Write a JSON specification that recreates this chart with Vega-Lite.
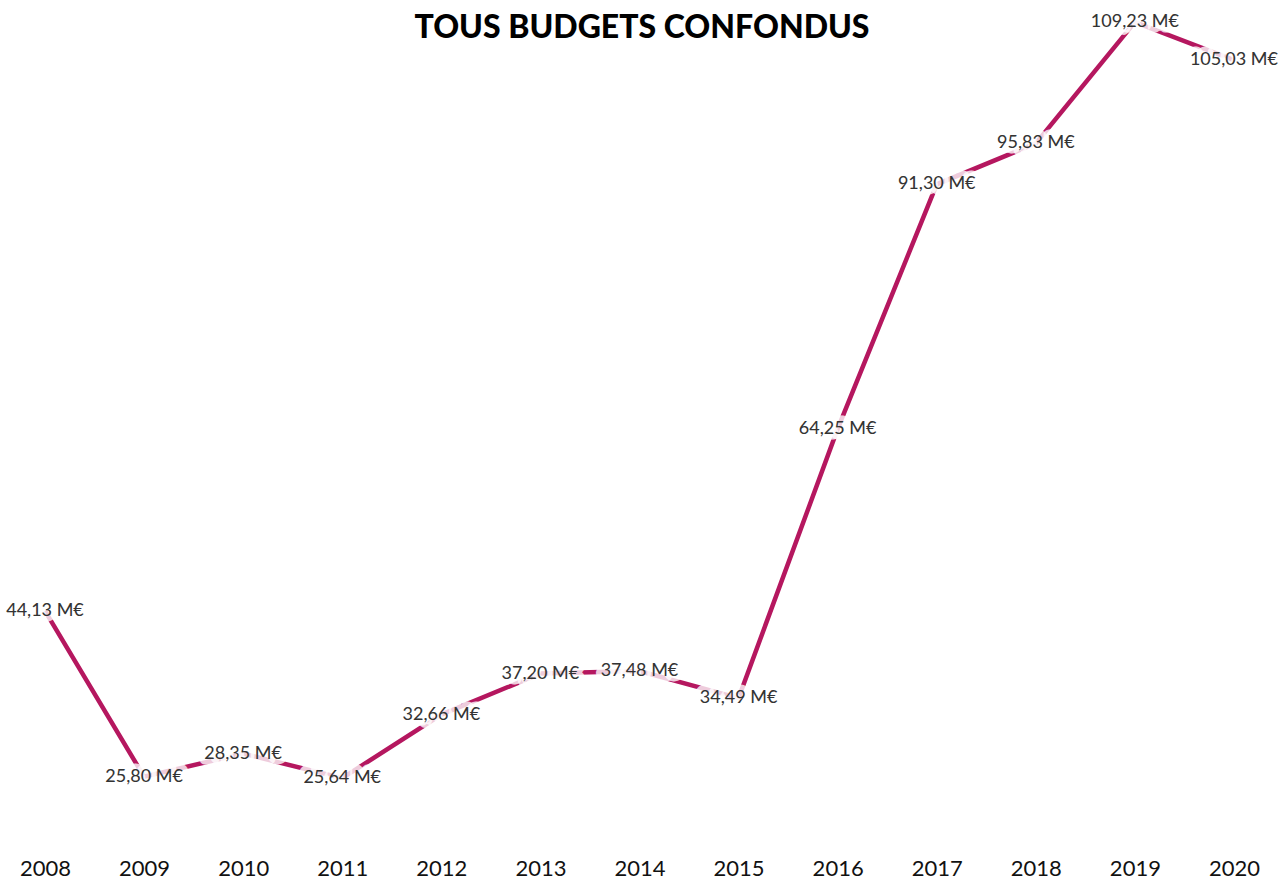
{
  "$schema": "https://vega.github.io/schema/vega-lite/v6.json",
  "width": 1284,
  "height": 850,
  "padding": {"top": 0, "left": 0, "right": 0, "bottom": 31},
  "autosize": {"type": "none"},
  "background": "white",
  "title": {
    "text": "TOUS BUDGETS CONFONDUS",
    "orient": "top",
    "anchor": "middle",
    "offset": -45,
    "font": "Lato",
    "fontSize": 32,
    "fontWeight": 900,
    "color": "#000000"
  },
  "config": {"view": {"stroke": null}},
  "data": {
    "values": [
      {"annee": 2008, "montant": 44.13, "label": "44,13 M€"},
      {"annee": 2009, "montant": 25.80, "label": "25,80 M€"},
      {"annee": 2010, "montant": 28.35, "label": "28,35 M€"},
      {"annee": 2011, "montant": 25.64, "label": "25,64 M€"},
      {"annee": 2012, "montant": 32.66, "label": "32,66 M€"},
      {"annee": 2013, "montant": 37.20, "label": "37,20 M€"},
      {"annee": 2014, "montant": 37.48, "label": "37,48 M€"},
      {"annee": 2015, "montant": 34.49, "label": "34,49 M€"},
      {"annee": 2016, "montant": 64.25, "label": "64,25 M€"},
      {"annee": 2017, "montant": 91.30, "label": "91,30 M€"},
      {"annee": 2018, "montant": 95.83, "label": "95,83 M€"},
      {"annee": 2019, "montant": 109.23, "label": "109,23 M€"},
      {"annee": 2020, "montant": 105.03, "label": "105,03 M€"}
    ]
  },
  "encoding": {
    "x": {
      "field": "annee",
      "type": "quantitative",
      "scale": {"domain": [2007.546, 2020.505], "nice": false, "zero": false},
      "axis": {
        "title": null,
        "values": [2008, 2009, 2010, 2011, 2012, 2013, 2014, 2015, 2016, 2017, 2018, 2019, 2020],
        "format": "d",
        "ticks": false,
        "domain": false,
        "grid": false,
        "labelFont": "Lato",
        "labelFontSize": 22,
        "labelColor": "#111111",
        "labelBaseline": "alphabetic",
        "labelPadding": 25,
        "labelFlush": false,
        "labelOverlap": false
      }
    },
    "y": {
      "field": "montant",
      "type": "quantitative",
      "scale": {"domain": [17.69, 111.68], "nice": false, "zero": false},
      "axis": null
    }
  },
  "layer": [
    {
      "mark": {"type": "line", "color": "#b5175f", "strokeWidth": 4.5, "clip": false}
    },
    {
      "mark": {
        "type": "text",
        "font": "Lato",
        "fontSize": 18,
        "color": "#333333",
        "align": "center",
        "baseline": "middle",
        "stroke": "white",
        "strokeWidth": 11,
        "strokeOpacity": 0.8,
        "strokeJoin": "round",
        "clip": false
      },
      "encoding": {"text": {"field": "label"}}
    },
    {
      "mark": {
        "type": "text",
        "font": "Lato",
        "fontSize": 18,
        "color": "#333333",
        "align": "center",
        "baseline": "middle",
        "clip": false
      },
      "encoding": {"text": {"field": "label"}}
    }
  ]
}
